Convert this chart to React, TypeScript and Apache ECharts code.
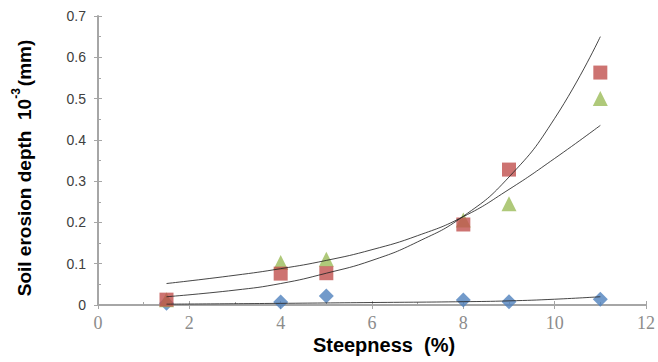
import React, { useEffect, useRef } from "react";
import * as echarts from "echarts";

const steepness = [1.5, 4, 5, 8, 9, 11];
const blueDepth = [0.004, 0.007, 0.022, 0.012, 0.008, 0.014];
const redDepth = [0.013, 0.076, 0.077, 0.195, 0.328, 0.563];
const greenDepth = [0.013, 0.103, 0.111, 0.206, 0.245, 0.5];

// trend curves
const trendX = [1.5, 3, 4, 5, 6, 7, 8, 9, 10, 11];
const redTrend = [0.02, 0.036, 0.052, 0.077, 0.108, 0.153, 0.215, 0.31, 0.452, 0.65];
const greenTrend = [0.052, 0.072, 0.088, 0.108, 0.134, 0.168, 0.214, 0.28, 0.355, 0.435];
const blueTrendX = [1.5, 4, 6, 8, 9, 10, 11];
const blueTrend = [0.002, 0.004, 0.006, 0.008, 0.01, 0.014, 0.02];

const xTicks = { min: 0, max: 12, interval: 2 };
const yTicks = { min: 0, max: 0.7, interval: 0.1 };

const pairs = (xs: number[], ys: number[]) => xs.map((x, i) => [x, ys[i]]);

export default function App() {
  const ref = useRef<HTMLDivElement>(null);
  useEffect(() => {
    if (!ref.current) return;
    const chart = echarts.init(ref.current, undefined, { renderer: "svg" });
    const axisColor = "#a6a6a6";
    const trendStyle = { color: "#262626", width: 1, opacity: 0.85 };
    chart.setOption({
      animation: false,
      grid: { left: 98, right: 7, top: 16, bottom: 57 },
      xAxis: [
        {
          type: "value",
          ...xTicks,
          axisLine: { show: true, onZero: false, lineStyle: { color: axisColor, width: 2 } },
          axisTick: { show: true, inside: false, length: 4, lineStyle: { color: axisColor, width: 1 } },
          axisLabel: {
            margin: 9,
            fontFamily: "Liberation Serif",
            fontSize: 18,
            color: "#8c8c8c",
          },
          splitLine: { show: false },
        },
        {
          type: "value",
          ...xTicks,
          position: "bottom",
          axisLine: { show: false },
          axisTick: { show: true, inside: true, length: 4, lineStyle: { color: axisColor, width: 1 } },
          minorTick: { show: true, splitNumber: 2, length: 3, lineStyle: { color: axisColor, width: 1 } },
          axisLabel: { show: false },
          splitLine: { show: false },
        },
      ],
      yAxis: [
        {
          type: "value",
          ...yTicks,
          axisLine: { show: true, onZero: false, lineStyle: { color: axisColor, width: 2 } },
          axisTick: { show: true, inside: false, length: 4, lineStyle: { color: axisColor, width: 1 } },
          axisLabel: {
            margin: 12,
            fontFamily: "Liberation Sans",
            fontSize: 14,
            color: "#404040",
          },
          splitLine: { show: false },
        },
        {
          type: "value",
          ...yTicks,
          position: "left",
          axisLine: { show: false },
          axisTick: { show: true, inside: true, length: 4, lineStyle: { color: axisColor, width: 1 } },
          minorTick: { show: true, splitNumber: 2, length: 3, lineStyle: { color: axisColor, width: 1 } },
          axisLabel: { show: false },
          splitLine: { show: false },
        },
      ],
      series: [
        {
          type: "scatter",
          data: pairs(steepness, blueDepth),
          symbol: "diamond",
          symbolSize: 15,
          itemStyle: { color: "#4f81bd" },
        },
        {
          type: "scatter",
          data: pairs(steepness, greenDepth),
          symbol: "triangle",
          symbolSize: 15,
          itemStyle: { color: "#9bbb59" },
        },
        {
          type: "scatter",
          data: pairs(steepness, redDepth),
          symbol: "rect",
          symbolSize: 14,
          itemStyle: { color: "#c0504d" },
        },
        {
          type: "line",
          data: pairs(blueTrendX, blueTrend),
          smooth: true,
          showSymbol: false,
          lineStyle: trendStyle,
        },
        {
          type: "line",
          data: pairs(trendX, greenTrend),
          smooth: true,
          showSymbol: false,
          lineStyle: trendStyle,
        },
        {
          type: "line",
          data: pairs(trendX, redTrend),
          smooth: true,
          showSymbol: false,
          lineStyle: trendStyle,
        },
      ],
      graphic: [
        {
          type: "text",
          x: 384,
          y: 345,
          style: {
            text: "Steepness  (%)",
            fontFamily: "Liberation Sans",
            fontWeight: "bold",
            fontSize: 20,
            fill: "#000",
            align: "center",
            verticalAlign: "middle",
          },
        },
        {
          type: "text",
          x: 22,
          y: 168,
          rotation: Math.PI / 2,
          style: {
            text: "{a|Soil erosion depth  10}{s|-3}{a|(mm)}",
            align: "center",
            verticalAlign: "middle",
            rich: {
              a: {
                fontFamily: "Liberation Sans",
                fontWeight: "bold",
                fontSize: 19,
                fill: "#000",
                lineHeight: 24,
                verticalAlign: "bottom",
              },
              s: {
                fontFamily: "Liberation Sans",
                fontWeight: "bold",
                fontSize: 12,
                fill: "#000",
                lineHeight: 24,
                verticalAlign: "top",
                padding: [0, 2, 0, 0],
              },
            },
          },
        },
      ],
    });
    return () => chart.dispose();
  }, []);
  return <div ref={ref} style={{ width: 658, height: 362, position: "absolute", left: 0, top: 0 }} />;
}
